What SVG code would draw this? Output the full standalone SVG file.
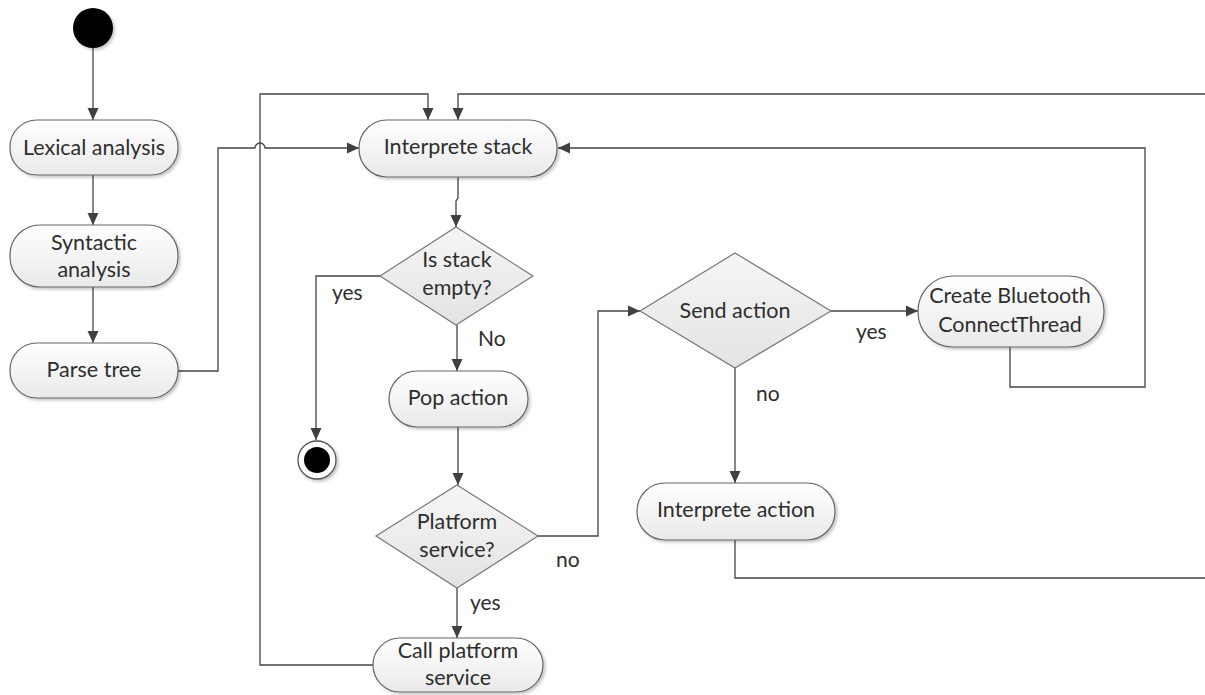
<svg xmlns="http://www.w3.org/2000/svg" width="1205" height="695" viewBox="0 0 1205 695">
  <defs>
    <linearGradient id="pillFill" x1="0" y1="0" x2="0" y2="1">
      <stop offset="0" stop-color="#ffffff"/>
      <stop offset="1" stop-color="#e9e9e9"/>
    </linearGradient>
    <linearGradient id="diamondFill" x1="0" y1="0" x2="0" y2="1">
      <stop offset="0" stop-color="#f6f6f6"/>
      <stop offset="1" stop-color="#e3e3e3"/>
    </linearGradient>
    <filter id="shadow" x="-10%" y="-10%" width="130%" height="140%">
      <feDropShadow dx="2" dy="2" stdDeviation="1.5" flood-color="#000" flood-opacity="0.22"/>
    </filter>
    <marker id="arrow" markerUnits="userSpaceOnUse" markerWidth="12" markerHeight="12" refX="12" refY="6" orient="auto">
      <path d="M0,0.5 L12,6 L0,11.5 z" fill="#404040"/>
    </marker>
  </defs>
  <style>
    .pill { fill: url(#pillFill); stroke: #666; stroke-width: 1.2; filter: url(#shadow); }
    .diamond { fill: url(#diamondFill); stroke: #777; stroke-width: 1.2; }
    .label { font-family: Lato, "Liberation Sans", sans-serif; font-size: 21.5px; fill: #2e2e2e; text-anchor: middle; }
    .edge-label { font-family: Lato, "Liberation Sans", sans-serif; font-size: 21px; fill: #2e2e2e; }
    .edge { fill: none; stroke: #444; stroke-width: 1.3; }
    .arrowed { marker-end: url(#arrow); }
  </style>

  <rect width="1205" height="695" fill="#ffffff"/>

  <!-- connectors -->
  <g id="connectors">
    <path class="edge arrowed" d="M93,48 V120"/>
    <path class="edge arrowed" d="M93,175 V225"/>
    <path class="edge arrowed" d="M93,287 V343"/>
    <!-- parse tree into the interpreter, hopping over the return line -->
    <path class="edge arrowed" d="M178,371 H218 V148 H255 A5,5 0 0 1 265,148 H359"/>
    <!-- call platform service back to interpreter -->
    <path class="edge arrowed" d="M373,665 H260 V94 H428 V120"/>
    <!-- return from the right side -->
    <path class="edge arrowed" d="M1205,94 H458 V120"/>
    <!-- bluetooth thread back to interpreter -->
    <path class="edge arrowed" d="M1010,347 V387 H1145 V148 H558"/>
    <!-- interprete action out to the right -->
    <path class="edge" d="M735,540 V578 H1205"/>
    <path class="edge arrowed" d="M458,177 V198 L456,201 V227"/>
    <path class="edge arrowed" d="M380,276 H316 V440"/>
    <path class="edge arrowed" d="M457,325 V371"/>
    <path class="edge arrowed" d="M458,427 V485"/>
    <path class="edge arrowed" d="M457,588 V638"/>
    <path class="edge arrowed" d="M538,536 H598 V311 H640"/>
    <path class="edge arrowed" d="M831,311 H918"/>
    <path class="edge arrowed" d="M735,368 V483"/>
  </g>

  <!-- edge labels -->
  <g id="edge-labels">
    <text class="edge-label" x="332" y="300">yes</text>
    <text class="edge-label" x="478" y="346">No</text>
    <text class="edge-label" x="856" y="339">yes</text>
    <text class="edge-label" x="756" y="401">no</text>
    <text class="edge-label" x="556" y="567">no</text>
    <text class="edge-label" x="470" y="610">yes</text>
  </g>

  <!-- nodes -->
  <g id="start">
    <circle cx="93" cy="28" r="20" fill="#000" filter="url(#shadow)"/>
  </g>

  <g id="lexical-analysis">
    <rect class="pill" x="10" y="120" width="168" height="55" rx="27" ry="27"/>
    <text class="label" x="94" y="155">Lexical analysis</text>
  </g>

  <g id="syntactic-analysis">
    <rect class="pill" x="10" y="225" width="168" height="62" rx="30" ry="30"/>
    <text class="label" x="94" y="250">Syntactic</text>
    <text class="label" x="94" y="277">analysis</text>
  </g>

  <g id="parse-tree">
    <rect class="pill" x="10" y="343" width="168" height="55" rx="27" ry="27"/>
    <text class="label" x="94" y="377">Parse tree</text>
  </g>

  <g id="interprete-stack">
    <rect class="pill" x="359" y="120" width="198" height="57" rx="28" ry="28"/>
    <text class="label" x="458" y="154">Interprete stack</text>
  </g>

  <g id="is-stack-empty">
    <polygon class="diamond" points="456,227 533,276 456,325 380,276"/>
    <text class="label" x="457" y="267">Is stack</text>
    <text class="label" x="457" y="295">empty?</text>
  </g>

  <g id="end">
    <circle cx="317" cy="460" r="19" fill="#fff" stroke="#555" stroke-width="1.3" filter="url(#shadow)"/>
    <circle cx="317" cy="460" r="13" fill="#000"/>
  </g>

  <g id="pop-action">
    <rect class="pill" x="389" y="371" width="139" height="56" rx="28" ry="28"/>
    <text class="label" x="458" y="405">Pop action</text>
  </g>

  <g id="platform-service">
    <polygon class="diamond" points="457,485 538,536 457,588 376,536"/>
    <text class="label" x="457" y="529">Platform</text>
    <text class="label" x="457" y="557">service?</text>
  </g>

  <g id="call-platform-service">
    <rect class="pill" x="373" y="638" width="170" height="54" rx="27" ry="27"/>
    <text class="label" x="458" y="658">Call platform</text>
    <text class="label" x="458" y="685">service</text>
  </g>

  <g id="send-action">
    <polygon class="diamond" points="735,253 831,311 735,368 640,311"/>
    <text class="label" x="735" y="318">Send action</text>
  </g>

  <g id="create-bluetooth-connectthread">
    <rect class="pill" x="918" y="276" width="186" height="71" rx="35" ry="35"/>
    <text class="label" x="1010" y="303">Create Bluetooth</text>
    <text class="label" x="1010" y="332">ConnectThread</text>
  </g>

  <g id="interprete-action">
    <rect class="pill" x="637" y="483" width="198" height="57" rx="28" ry="28"/>
    <text class="label" x="736" y="517">Interprete action</text>
  </g>
</svg>
